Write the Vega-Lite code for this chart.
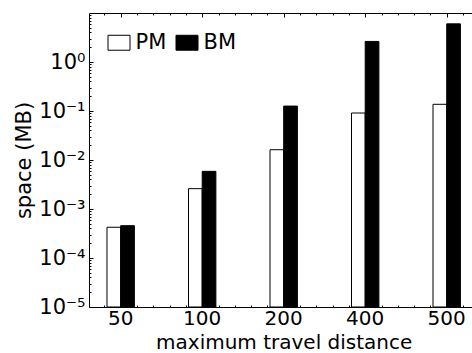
{
  "$schema": "https://vega.github.io/schema/vega-lite/v6.json",
  "autosize": {"type": "none"},
  "padding": {"left": 89, "top": 13, "right": 0, "bottom": 46},
  "width": 383,
  "height": 294,
  "config": {
    "view": {"stroke": null},
    "font": "DejaVu Sans",
    "axis": {
      "domainColor": "#000",
      "tickColor": "#000",
      "labelColor": "#000",
      "titleColor": "#000",
      "labelFont": "DejaVu Sans",
      "titleFont": "DejaVu Sans",
      "labelFontSize": 21,
      "titleFontSize": 21,
      "titleFontWeight": "normal",
      "grid": false,
      "tickWidth": 1,
      "domainWidth": 1
    }
  },
  "data": {
    "values": [
      {"distance": "50", "method": "PM", "space": 0.000424},
      {"distance": "50", "method": "BM", "space": 0.000457},
      {"distance": "100", "method": "PM", "space": 0.0026},
      {"distance": "100", "method": "BM", "space": 0.00587},
      {"distance": "200", "method": "PM", "space": 0.0162},
      {"distance": "200", "method": "BM", "space": 0.126},
      {"distance": "400", "method": "PM", "space": 0.091},
      {"distance": "400", "method": "BM", "space": 2.63},
      {"distance": "500", "method": "PM", "space": 0.137},
      {"distance": "500", "method": "BM", "space": 6.0}
    ]
  },
  "layer": [
    {
      "mark": {"type": "bar", "stroke": "#000", "strokeWidth": 1},
      "encoding": {
        "x": {
          "field": "distance", "type": "nominal",
          "sort": ["50", "100", "200", "400", "500"],
          "scale": {"paddingInner": 0.664, "paddingOuter": 0.1816, "align": 0.608},
          "axis": {"orient": "bottom", "ticks": false, "labelAngle": 0, "labelPadding": 1, "labelFontSize": 20,
                   "title": "maximum travel distance", "titleFontSize": 20, "titleX": 194.7, "titlePadding": 4}
        },
        "xOffset": {
          "field": "method", "type": "nominal", "sort": ["PM", "BM"],
          "scale": {"paddingInner": 0, "paddingOuter": 0}
        },
        "y": {
          "field": "space", "type": "quantitative", "stack": null,
          "scale": {"type": "log", "domain": [0.00001, 10]},
          "axis": {
            "orient": "left",
            "values": [0.00001, 0.0001, 0.001, 0.01, 0.1, 1],
            "labelExpr": "'10' + ['⁻⁵','⁻⁴','⁻³','⁻²','⁻¹','⁰'][round(log(datum.value)/LN10)+5]",
            "tickSize": -4,
            "labelPadding": 8,
            "title": "space (MB)",
            "titlePadding": 4
          }
        },
        "fill": {
          "field": "method", "type": "nominal", "sort": ["PM", "BM"],
          "scale": {"domain": ["PM", "BM"], "range": ["#ffffff", "#000000"]},
          "legend": {
            "orient": "none", "legendX": 18.5, "legendY": 18,
            "direction": "horizontal", "title": null,
            "symbolType": "M-1,-0.68H1V0.68H-1Z", "symbolSize": 484,
            "symbolStrokeColor": "#000", "symbolStrokeWidth": 1,
            "labelFontSize": 21, "labelFont": "DejaVu Sans", "labelColor": "#000",
            "labelOffset": 5, "columnPadding": 7
          }
        }
      }
    },
    {
      "mark": {"type": "point", "opacity": 0, "clip": true},
      "encoding": {
        "x": {
          "field": "space", "type": "quantitative",
          "scale": {"domain": [-0.389, 4.31], "nice": false, "zero": false},
          "axis": {
            "orient": "bottom", "domain": false, "labels": false, "title": null,
            "values": [-0.2, 0, 0.2, 0.4, 0.6, 0.8, 1, 1.2, 1.4, 1.6, 1.8, 2, 2.2, 2.4, 2.6, 2.8, 3, 3.2, 3.4, 3.6, 3.8, 4, 4.2],
            "tickSize": {"condition": {"test": "abs(datum.value - round(datum.value)) < 0.01", "value": -4}, "value": -2}
          }
        },
        "y": {
          "field": "space", "type": "quantitative",
          "scale": {"type": "log", "domain": [0.00001, 10]},
          "axis": {
            "orient": "left", "domain": false, "labels": false, "title": null, "tickSize": -2,
            "values": [0.00002, 0.00003, 0.00004, 0.00005, 0.00006, 0.00007, 0.00008, 0.00009,
                       0.0002, 0.0003, 0.0004, 0.0005, 0.0006, 0.0007, 0.0008, 0.0009,
                       0.002, 0.003, 0.004, 0.005, 0.006, 0.007, 0.008, 0.009,
                       0.02, 0.03, 0.04, 0.05, 0.06, 0.07, 0.08, 0.09,
                       0.2, 0.3, 0.4, 0.5, 0.6, 0.7, 0.8, 0.9,
                       2, 3, 4, 5, 6, 7, 8, 9]
          }
        }
      }
    },
    {
      "mark": {"type": "point", "opacity": 0, "clip": true},
      "encoding": {
        "x": {
          "field": "space", "type": "quantitative",
          "scale": {"domain": [-0.389, 4.31], "nice": false, "zero": false},
          "axis": {
            "orient": "top", "domain": true, "labels": false, "title": null,
            "values": [-0.2, 0, 0.2, 0.4, 0.6, 0.8, 1, 1.2, 1.4, 1.6, 1.8, 2, 2.2, 2.4, 2.6, 2.8, 3, 3.2, 3.4, 3.6, 3.8, 4, 4.2],
            "tickSize": {"condition": {"test": "abs(datum.value - round(datum.value)) < 0.01", "value": -4}, "value": -2}
          }
        }
      }
    }
  ],
  "resolve": {"scale": {"x": "independent"}, "axis": {"x": "independent", "y": "independent"}}
}
